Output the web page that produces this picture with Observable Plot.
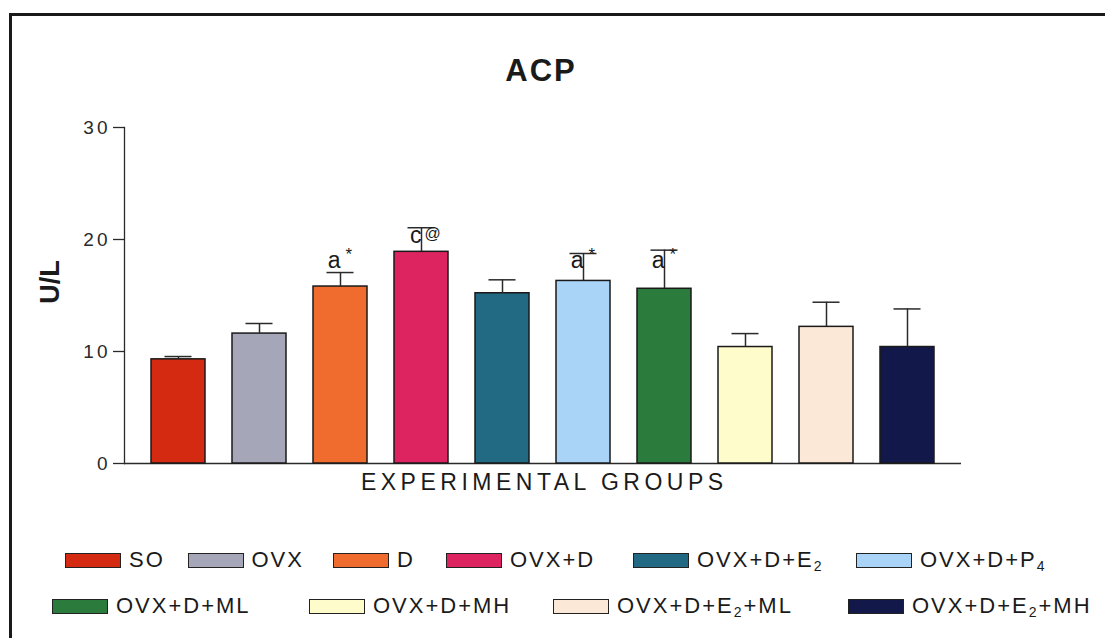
<!DOCTYPE html>
<html>
<head>
<meta charset="utf-8">
<script src="https://cdn.jsdelivr.net/npm/d3@7"></script>
<script src="https://cdn.jsdelivr.net/npm/@observablehq/plot@0.6"></script>
<style>
  html, body { margin: 0; padding: 0; background: #fff; }
  body { width: 1105px; height: 638px; overflow: hidden; position: relative;
         font-family: "Liberation Sans", Arial, Helvetica, sans-serif; color: #1a1a1a; }
  #frame { position: absolute; left: 9px; top: 13px; width: 1300px; height: 900px;
           border: 3px solid #1a1a1a; box-sizing: border-box; }
  #title { position: absolute; left: 540px; top: 55px; transform: translateX(-50%);
           font-size: 31px; line-height: 31px; font-weight: bold; letter-spacing: 2px;
           padding-left: 2px; white-space: nowrap; }
  #ylabel { position: absolute; left: 50px; top: 282px; transform: translate(-50%, -50%) rotate(-90deg);
            font-size: 27px; line-height: 27px; font-weight: bold; white-space: nowrap; }
  #chart { position: absolute; left: 0; top: 100px; }
  #xlabel { position: absolute; left: 542px; top: 471px; transform: translateX(-50%);
            font-size: 23px; line-height: 23px; letter-spacing: 4.5px; padding-left: 4.5px; white-space: nowrap; }
  .lrow { position: absolute; height: 22px; display: grid; align-items: center; }
  #lrow1 { top: 549px; left: 65px; grid-template-columns: 122.5px 145.5px 113px 187px 223px auto; }
  #lrow2 { top: 595px; left: 52px; grid-template-columns: 257px 244px 295px auto; }
  .item { display: flex; align-items: center; white-space: nowrap; }
  .sw { width: 56px; height: 15px; box-sizing: border-box; border: 1.5px solid #222; margin-right: 8px; flex: none; }
  .lt { font-size: 22px; line-height: 22px; letter-spacing: 2px; }
  .lt sub { font-size: 14px; vertical-align: -4px; line-height: 0; letter-spacing: 2px; }
  svg [aria-label="y-axis tick label"] text { letter-spacing: 3px; }
</style>
</head>
<body>
<div id="frame"></div>
<div id="title"></div>
<div id="ylabel"></div>
<div id="chart"></div>
<div id="xlabel"></div>
<div id="lrow1" class="lrow"></div>
<div id="lrow2" class="lrow"></div>
<script>
// ---- data ----
const titleText = "ACP";
const yLabel = "U/L";
const xLabel = "EXPERIMENTAL GROUPS";
const groups = ["SO", "OVX", "D", "OVX+D", "OVX+D+E2", "OVX+D+P4", "OVX+D+ML", "OVX+D+MH", "OVX+D+E2+ML", "OVX+D+E2+MH"];
const means  = [9.3, 11.6, 15.8, 18.9, 15.2, 16.3, 15.6, 10.4, 12.2, 10.4];
const errors = [0.25, 0.9, 1.25, 2.15, 1.2, 2.45, 3.45, 1.2, 2.2, 3.4];
const colors = ["#d42a12", "#a6a6b9", "#ef6b2e", "#de2460", "#226a84", "#a9d3f7", "#2b7b3d", "#fefccb", "#fce8d6", "#12184a"];
const yTicks = [0, 10, 20, 30];
const yDomain = [0, 30];
// significance labels: group, letter, symbol, level (U/L) at which the label sits
const annGroups  = ["D", "OVX+D", "OVX+D+P4", "OVX+D+ML"];
const annLetters = ["a", "c", "a", "a"];
const annSymbols = ["*", "@", "*", "*"];
const annLevels  = [18.15, 20.35, 18.15, 18.15];
const legendRow1 = ["SO", "OVX", "D", "OVX+D", "OVX+D+E2", "OVX+D+P4"];
const legendRow2 = ["OVX+D+ML", "OVX+D+MH", "OVX+D+E2+ML", "OVX+D+E2+MH"];

// ---- build tables ----
const bars = groups.map((g, i) => ({group: g, mean: means[i], err: errors[i], top: means[i] + errors[i]}));
const anns = annGroups.map((g, i) => ({group: g, letter: annLetters[i], symbol: annSymbols[i], level: annLevels[i]}));

document.getElementById("title").textContent = titleText;
document.getElementById("ylabel").textContent = yLabel;
document.getElementById("xlabel").textContent = xLabel;

const font = '"Liberation Sans", Arial, Helvetica, sans-serif';

const chart = Plot.plot({
  width: 1105,
  height: 373,
  marginTop: 27,
  marginBottom: 10,
  marginLeft: 124,
  marginRight: 144,
  style: {fontFamily: font, background: "transparent", color: "#2a2a2a", overflow: "visible"},
  x: {domain: groups, padding: 1/3, axis: null},
  y: {domain: yDomain},
  color: {domain: groups, range: colors},
  marks: [
    Plot.axisY({ticks: yTicks, tickSize: 11, tickPadding: 3, fontSize: 19, label: null, strokeWidth: 1.3, color: "#2a2a2a"}),
    Plot.frame({anchor: "left", stroke: "#2a2a2a", strokeWidth: 1.3}),
    Plot.ruleY([0], {stroke: "#2a2a2a", strokeWidth: 1.3}),
    Plot.barY(bars, {x: "group", y: "mean", fill: "group", stroke: "#1a1a1a", strokeWidth: 1.5}),
    Plot.ruleX(bars, {x: "group", y1: "mean", y2: "top", stroke: "#2a2a2a", strokeWidth: 1.5}),
    Plot.tickY(bars, {x: "group", y: "top", stroke: "#2a2a2a", strokeWidth: 1.5, insetLeft: 13.5, insetRight: 13.5}),
    Plot.text(anns, {x: "group", y: "level", text: "letter", textAnchor: "end", dx: 0, fontSize: 23, fill: "#1a1a1a", lineAnchor: "middle"}),
    Plot.text(anns.filter(d => d.symbol === "*"), {x: "group", y: "level", text: "symbol", textAnchor: "start", dx: 5, dy: -6, fontSize: 17, fill: "#1a1a1a", lineAnchor: "middle"}),
    Plot.text(anns.filter(d => d.symbol === "@"), {x: "group", y: "level", text: "symbol", textAnchor: "start", dx: 3, dy: -2, fontSize: 16, fill: "#1a1a1a", lineAnchor: "middle"})
  ]
});
document.getElementById("chart").appendChild(chart);

// ---- legend ----
const colorOf = Object.fromEntries(groups.map((g, i) => [g, colors[i]]));
function fmt(label) {
  return label.replace(/([EP])(\d)/g, "$1<sub>$2</sub>");
}
function fillRow(id, items) {
  const row = document.getElementById(id);
  for (const g of items) {
    const it = document.createElement("div");
    it.className = "item";
    const sw = document.createElement("div");
    sw.className = "sw";
    sw.style.background = colorOf[g];
    const t = document.createElement("span");
    t.className = "lt";
    t.innerHTML = fmt(g);
    it.appendChild(sw);
    it.appendChild(t);
    row.appendChild(it);
  }
}
fillRow("lrow1", legendRow1);
fillRow("lrow2", legendRow2);
</script>
</body>
</html>
